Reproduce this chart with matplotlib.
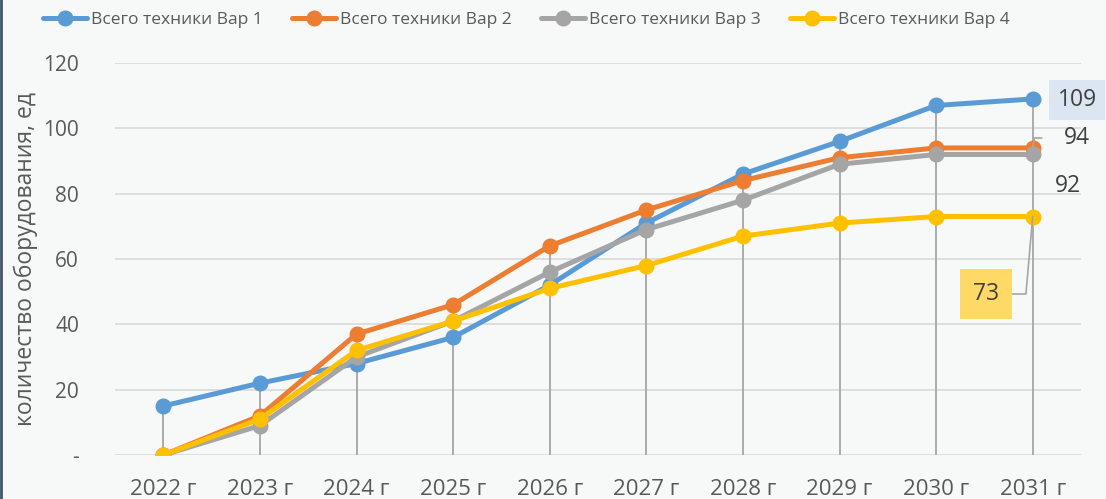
import numpy as np
import matplotlib.pyplot as plt

years = ["2022 г", "2023 г", "2024 г", "2025 г", "2026 г", "2027 г", "2028 г", "2029 г", "2030 г", "2031 г"]
var1 = [15, 22, 28, 36, 52, 71, 86, 96, 107, 109]
var2 = [0, 12, 37, 46, 64, 75, 84, 91, 94, 94]
var3 = [0, 9, 30, 41, 56, 69, 78, 89, 92, 92]
var4 = [0, 11, 32, 41, 51, 58, 67, 71, 73, 73]
names = ["Всего техники Вар 1", "Всего техники Вар 2", "Всего техники Вар 3", "Всего техники Вар 4"]
colors = ["#5b9bd5", "#ed7d31", "#a5a5a5", "#ffc000"]

plt.rcParams['font.family'] = ['Open Sans', 'DejaVu Sans']
txt = "#595959"

fig = plt.figure(figsize=(11.06, 4.99), dpi=100, facecolor="#f7f8f8")
ax = fig.add_axes([115 / 1106, 44 / 499, (1081 - 115) / 1106, (455 - 63) / 499])
ax.set_facecolor("none")

x = np.arange(len(years))
series = [var1, var2, var3, var4]

# drop lines from the highest point down to zero
tops = np.max(np.array(series), axis=0)
ax.vlines(x, 0, tops, color="#a6a6a6", lw=1.3, zorder=1)

for vals, name, c in zip(series, names, colors):
    ax.plot(x, vals, color=c, lw=3.6, marker="o", ms=10.5, label=name, zorder=3,
            solid_capstyle="round")

ax.set_xlim(-0.5, len(years) - 0.5)
ax.set_ylim(0, 120)
ax.set_yticks(range(0, 121, 20))
ax.set_yticklabels(["-"] + [str(v) for v in range(20, 121, 20)])
ax.set_xticks(x)
ax.set_xticklabels(years)
ax.grid(axis="y", color="#d9d9d9", lw=1.2)
ax.set_axisbelow(True)
for s in ax.spines.values():
    s.set_visible(False)
ax.tick_params(length=0, colors=txt)
ax.tick_params(axis="x", pad=17, labelsize=16)
ax.tick_params(axis="y", pad=26, labelsize=15)
ax.set_ylabel("количество оборудования, ед", fontsize=16.5, color=txt)
ax.yaxis.set_label_coords(-0.08, 0.5)

# data labels at the last point
last = len(years) - 1
ax.annotate(str(var1[-1]), (last, var1[-1]), xytext=(1077, 399), textcoords="figure pixels",
            ha="center", va="center", fontsize=16.5, color="#404040",
            bbox=dict(boxstyle="square,pad=0.35", fc="#dce6f2", ec="none"))
ax.annotate(str(var2[-1]), (last, var2[-1]), xytext=(1077, 361), textcoords="figure pixels",
            ha="center", va="center", fontsize=16.5, color="#404040",
            arrowprops=dict(arrowstyle="-", color="#a6a6a6", lw=1.2,
                            connectionstyle="angle,angleA=0,angleB=80,rad=0",
                            shrinkA=14, shrinkB=0))
ax.annotate(str(var3[-1]), (last, var3[-1]), xytext=(1068, 313), textcoords="figure pixels",
            ha="center", va="center", fontsize=16.5, color="#404040")
ax.annotate(str(var4[-1]), (last, var4[-1]), xytext=(986, 205), textcoords="figure pixels",
            ha="center", va="center", fontsize=16.5, color="#404040",
            bbox=dict(boxstyle="square,pad=0.55", fc="#ffd966", ec="none"),
            arrowprops=dict(arrowstyle="-", color="#a6a6a6", lw=1.2,
                            connectionstyle="angle,angleA=0,angleB=85,rad=0",
                            shrinkA=0, shrinkB=0))

fig.legend(loc="upper center", bbox_to_anchor=(0.476, 1.0), ncol=4, frameon=False,
           fontsize=12.5, labelcolor=txt, handlelength=2.5, columnspacing=1.7,
           handletextpad=0.25, borderaxespad=0.3)

fig.add_artist(plt.Line2D([1 / 1106, 1 / 1106], [0, 1], color="#44546a", lw=2))

fig.savefig("out.png", dpi=100, facecolor=fig.get_facecolor())
